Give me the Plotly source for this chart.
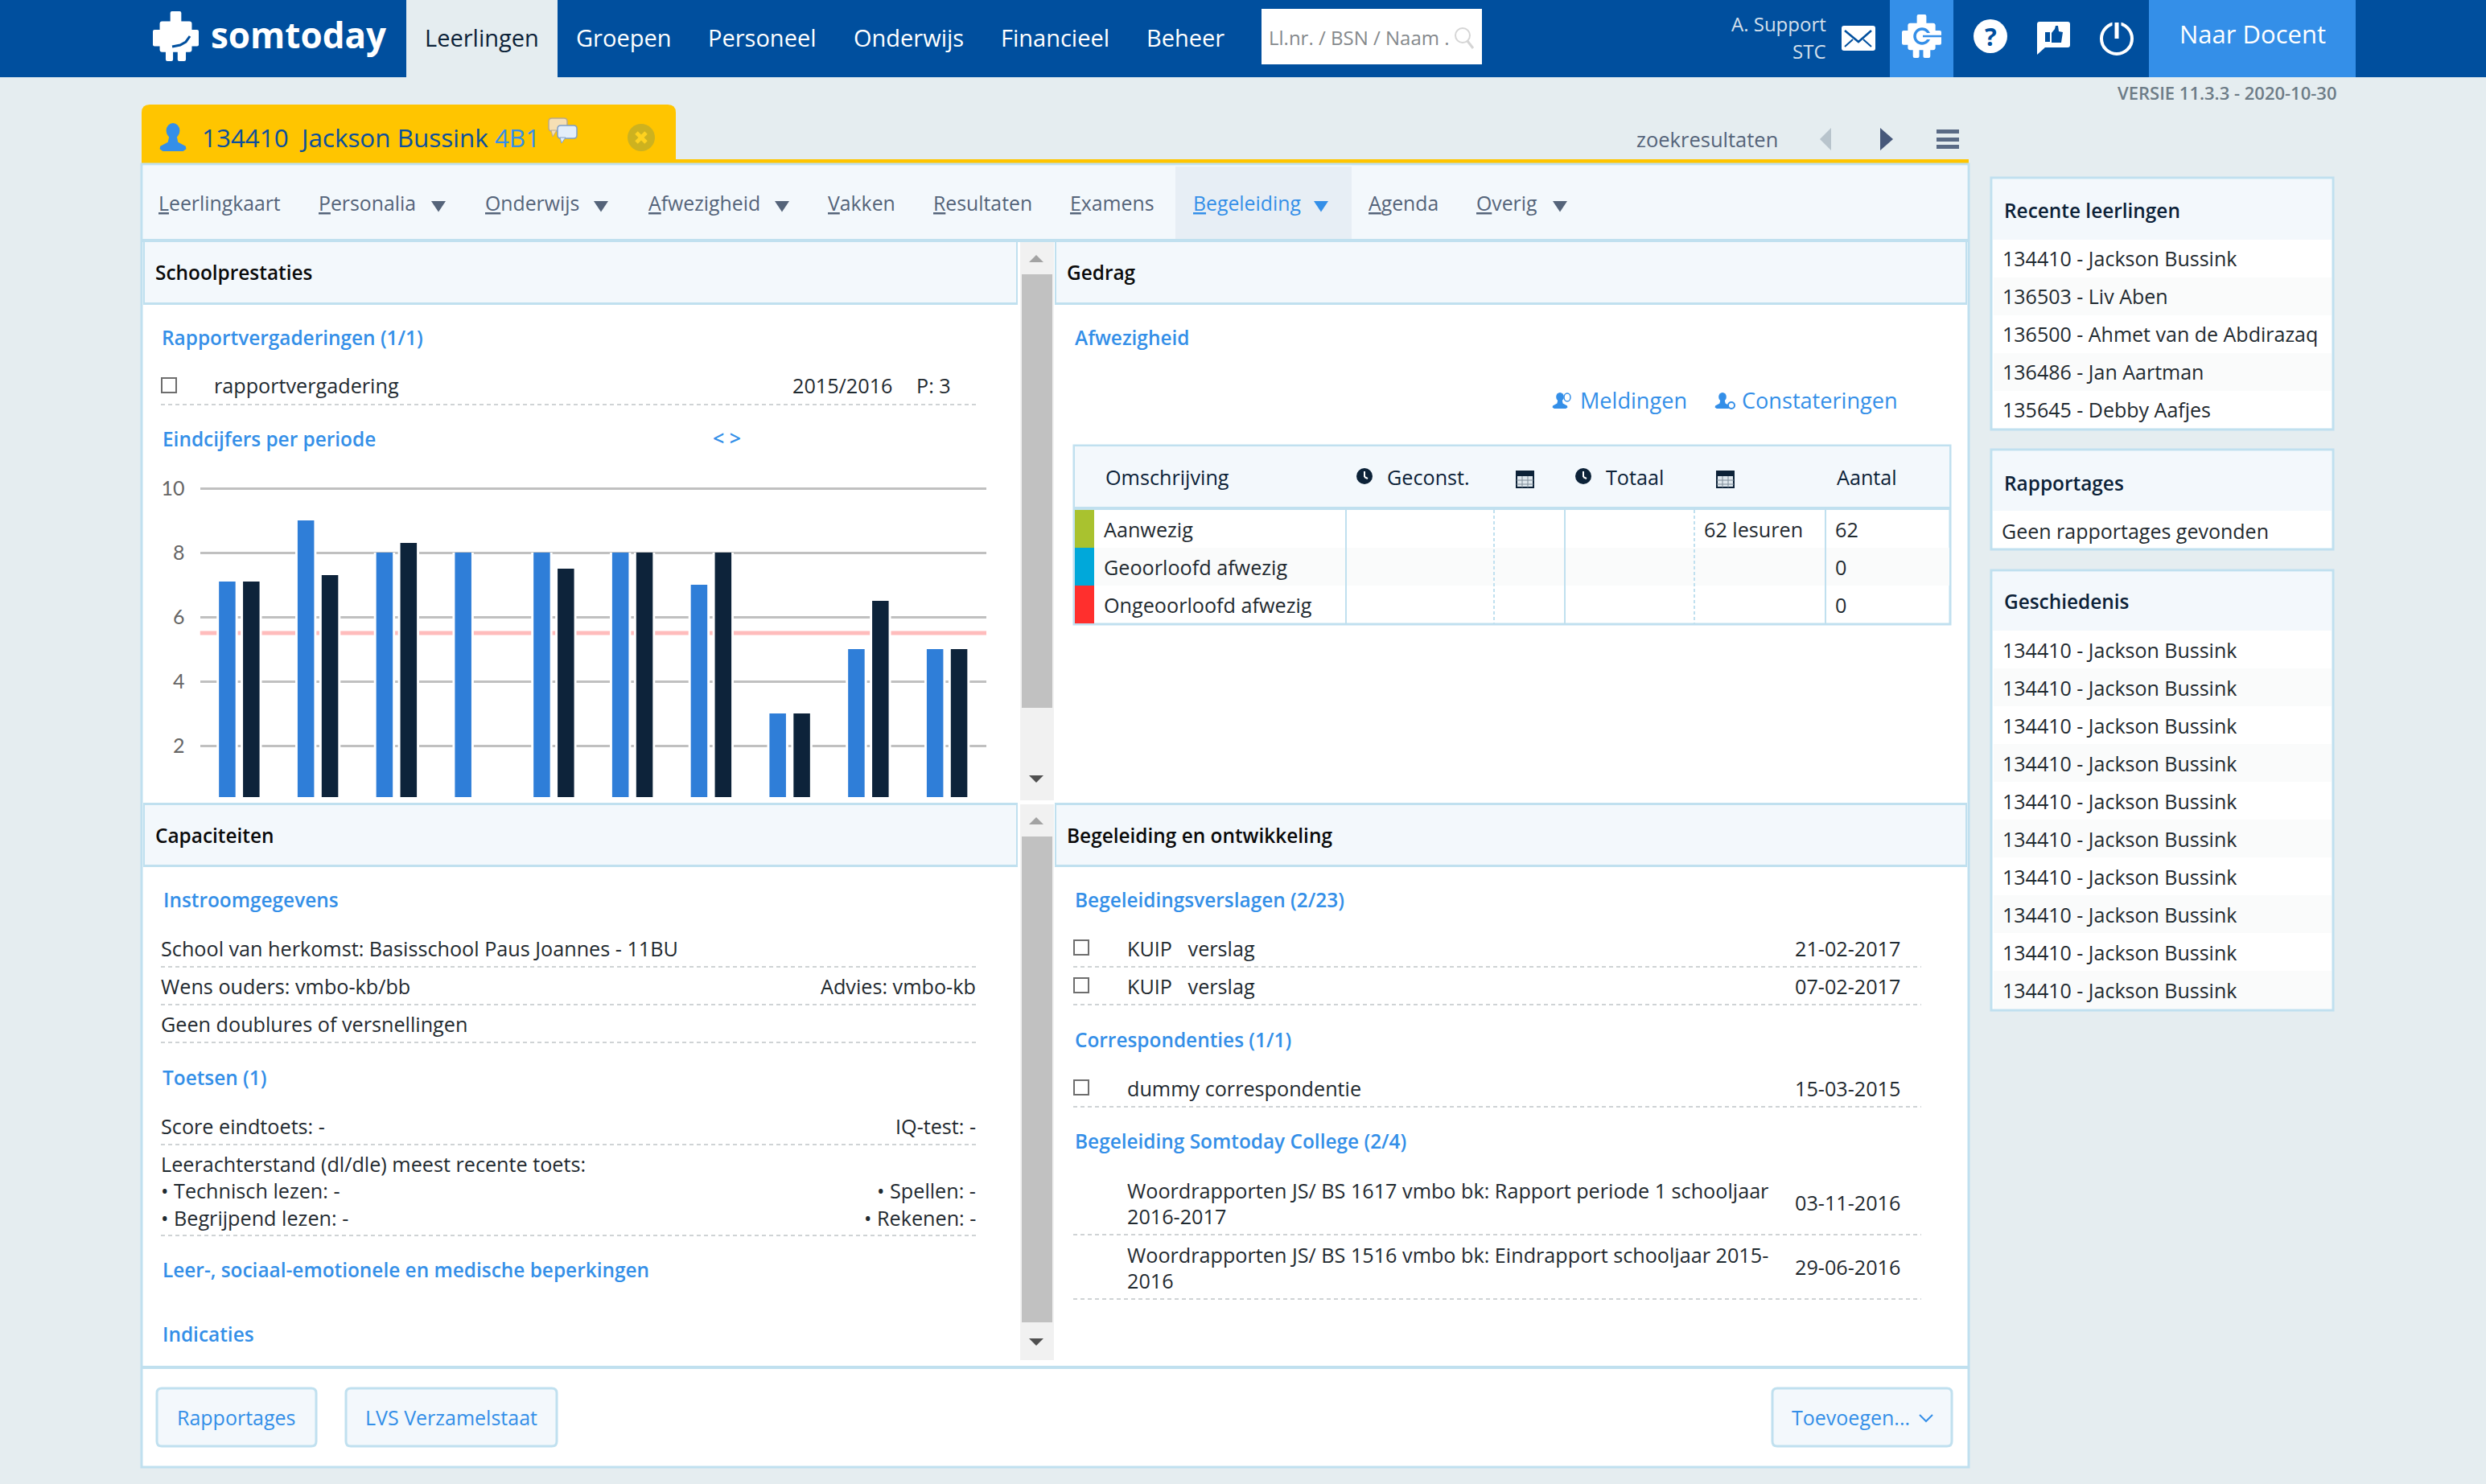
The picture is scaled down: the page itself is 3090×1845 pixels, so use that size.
import plotly.graph_objects as go

W, H = 3090, 1845

# chart data
PERIODS = [1, 2, 3, 4, 5, 6, 7, 8, 9, 10]
SERIES_A = [7.1, 9.0, 8.0, 8.0, 8.0, 8.0, 7.0, 3.0, 5.0, 5.0]
SERIES_B = [7.1, 7.3, 8.3, None, 7.5, 8.0, 8.0, 3.0, 6.5, 5.0]
PASS_MARK = 5.5
Y_TICKS = [2, 4, 6, 8, 10]

NAV_LABELS = ["Leerlingen", "Groepen", "Personeel", "Onderwijs", "Financieel", "Beheer"]
MENU_LABELS = ["Leerlingkaart", "Personalia", "Onderwijs", "Afwezigheid", "Vakken",
               "Resultaten", "Examens", "Begeleiding", "Agenda", "Overig"]
RECENT = ["134410 - Jackson Bussink", "136503 - Liv Aben", "136500 - Ahmet van de Abdirazaq",
          "136486 - Jan Aartman", "135645 - Debby Aafjes"]
HISTORY = ["134410 - Jackson Bussink"] * 10
ABSENCE_ROWS = ["Aanwezig", "Geoorloofd afwezig", "Ongeoorloofd afwezig"]
ABSENCE_TOTAL = ["62 lesuren", "", ""]
ABSENCE_COUNT = ["62", "0", "0"]

NAVY = "#004f9e"
BLUE = "#348fe8"
PAGE = "#e5edf0"
PALE = "#f3f8fc"
EDGE = "#c0e0ef"
DASH = "#cfd3d5"
INK = "#1f2a30"
SLATE = "#55647a"
FONT = "Open Sans"
NONE = "rgba(0,0,0,0)"
HEAD_SIZE = 24.4

shapes = []
notes = []


def px(x):
    return x / W


def py(y):
    return 1 - y / H


def rect(x0, y0, x1, y1, fill, edge=None, lw=0):
    shapes.append(dict(type="rect", xref="paper", yref="paper", layer="below",
                       x0=px(x0), x1=px(x1), y0=py(y0), y1=py(y1), fillcolor=fill,
                       line=dict(color=edge or fill, width=lw)))


def line(x0, y0, x1, y1, color, lw=2, dash=None):
    shapes.append(dict(type="line", xref="paper", yref="paper", layer="below",
                       x0=px(x0), x1=px(x1), y0=py(y0), y1=py(y1),
                       line=dict(color=color, width=lw, dash=dash or "solid")))


def circle(cx, cy, rx, ry, fill, edge=None, lw=0):
    shapes.append(dict(type="circle", xref="paper", yref="paper", layer="below",
                       x0=px(cx - rx), x1=px(cx + rx), y0=py(cy + ry), y1=py(cy - ry),
                       fillcolor=fill, line=dict(color=edge or fill, width=lw)))


def poly(pts, fill, edge=None, lw=0, closed=True):
    d = "M " + " L ".join(f"{px(x):.5f},{py(y):.5f}" for x, y in pts)
    if closed:
        d += " Z"
    shapes.append(dict(type="path", xref="paper", yref="paper", layer="below", path=d,
                       fillcolor=fill, line=dict(color=edge or fill, width=lw)))


def round_box(x0, y0, x1, y1, r, fill, edge=None, lw=0, top_only=False):
    rb = 0 if top_only else r
    d = (f"M {px(x0 + r)},{py(y0)} L {px(x1 - r)},{py(y0)} Q {px(x1)},{py(y0)} {px(x1)},{py(y0 + r)} "
         f"L {px(x1)},{py(y1 - rb)} Q {px(x1)},{py(y1)} {px(x1 - rb)},{py(y1)} "
         f"L {px(x0 + rb)},{py(y1)} Q {px(x0)},{py(y1)} {px(x0)},{py(y1 - rb)} "
         f"L {px(x0)},{py(y0 + r)} Q {px(x0)},{py(y0)} {px(x0 + r)},{py(y0)} Z")
    shapes.append(dict(type="path", xref="paper", yref="paper", layer="below", path=d,
                       fillcolor=fill, line=dict(color=edge or fill, width=lw)))


def text(x, y, s, size=25.2, color=INK, anchor="left", weight=400, family=FONT):
    notes.append(dict(xref="paper", yref="paper", x=px(x), y=py(y), text=s, showarrow=False,
                      xanchor=anchor, yanchor="middle", borderpad=0, borderwidth=0, align=anchor,
                      font=dict(family=family, size=size, color=color, weight=weight)))


def heading(x, y, s, color=BLUE):
    text(x, y, s, HEAD_SIZE, color, weight=600)


def puzzle(x0, y0, w, h, fill):
    # the stepped somtoday figure, also used for the switch button
    round_box(x0 + .38 * w, y0, x0 + .62 * w, y0 + .3 * h, 2, fill)
    round_box(x0 + .15 * w, y0 + .2 * h, x0 + .85 * w, y0 + .82 * h, 3, fill)
    round_box(x0, y0 + .37 * h, x0 + w, y0 + .7 * h, 2, fill)
    round_box(x0 + .28 * w, y0 + .78 * h, x0 + .44 * w, y0 + h, 2, fill)
    round_box(x0 + .54 * w, y0 + .78 * h, x0 + .72 * w, y0 + h, 2, fill)


def person(cx, top, h, color):
    circle(cx, top + .27 * h, .24 * h, .27 * h, color)
    poly([(cx - .13 * h, top + .45 * h), (cx + .13 * h, top + .45 * h), (cx + .18 * h, top + .68 * h),
          (cx + .45 * h, top + .82 * h), (cx + .47 * h, top + .92 * h), (cx + .36 * h, top + h),
          (cx - .36 * h, top + h), (cx - .47 * h, top + .92 * h), (cx - .45 * h, top + .82 * h),
          (cx - .18 * h, top + .68 * h)], color)


def clock(cx, cy):
    circle(cx, cy, 10, 10, "#0c2238")
    line(cx, cy - 6, cx, cy + 1, "white", 2)
    line(cx, cy + 1, cx + 4, cy + 3, "white", 2)


def calendar(x0, y0):
    rect(x0, y0 + 3, x0 + 21, y0 + 23, "#dfe8ee", "#0c2238", 2)
    rect(x0, y0 + 3, x0 + 21, y0 + 9, "#0c2238")
    for dx in (7, 14):
        line(x0 + dx, y0 + 9, x0 + dx, y0 + 23, "#7d8b97", 1)
    for dy in (14, 19):
        line(x0, y0 + dy, x0 + 21, y0 + dy, "#7d8b97", 1)


def checkbox(x0, y0):
    rect(x0, y0, x0 + 18, y0 + 18, "white", "#6e6e6e", 2)


def caret(x0, y, w, color):
    poly([(x0, y), (x0 + w, y), (x0 + w / 2, y + .75 * w)], color)


def card(x0, y0, x1, y1, head_bottom, title, title_y):
    rect(x0, y0, x1, y1, "white", EDGE, 3)
    rect(x0 + 2, y0 + 2, x1 - 2, head_bottom, PALE)
    text(x0 + 16, title_y, title, HEAD_SIZE, "#0c2238", weight=600)


def scrollbar(y0, y1, thumb0, thumb1, up_y, down_y):
    rect(1268, y0, 1310, y1, "#f1f1f1")
    rect(1270, thumb0, 1308, thumb1, "#c1c1c1")
    poly([(1279, up_y + 9), (1297, up_y + 9), (1288, up_y)], "#a3a3a3")
    poly([(1279, down_y), (1297, down_y), (1288, down_y + 9)], "#505050")


# page and top bar
rect(0, 0, W, H, PAGE)
rect(0, 0, W, 96, NAVY)
rect(505, 0, 693, 96, PAGE)
puzzle(190, 14, 57, 62, "white")
poly([(214, 58), (224, 56), (231, 52), (236, 45)], NONE, NAVY, 3, closed=False)
text(262, 43, "somtoday", 44, "white", weight=700)
for label, x in zip(NAV_LABELS, [528, 716, 880, 1061, 1244, 1425]):
    text(x, 47, label, 29, "#0c2238" if label == "Leerlingen" else "white")
rect(1568, 11, 1842, 80, "white")
text(1577, 46, "Ll.nr. / BSN / Naam .", 24, "#85898c")
circle(1818, 44, 9, 9, NONE, "#d5d5d5", 2)
line(1824, 51, 1831, 60, "#d5d5d5", 3)
text(2270, 30, "A. Support", 24, "#d5e0ec", "right")
text(2270, 63, "STC", 24, "#d5e0ec", "right")
round_box(2289, 32, 2331, 63, 3, "white")
poly([(2293, 38), (2310, 52), (2326, 38)], NONE, NAVY, 2.5, closed=False)
line(2293, 58, 2303, 49, NAVY, 2)
line(2326, 58, 2316, 49, NAVY, 2)
rect(2349, 0, 2428, 96, BLUE)
puzzle(2364, 18, 49, 54, "white")
circle(2389, 45, 9, 9, NONE, BLUE, 3.5)
line(2392, 45, 2413, 45, "white", 8)
line(2390, 45, 2413, 45, BLUE, 2.5)
circle(2474, 45, 21, 21, "white")
text(2474, 45, "?", 31, NAVY, "center", 700)
round_box(2532, 27, 2573, 59, 3, "white")
poly([(2532, 56), (2543, 58), (2532, 68)], "white")
rect(2542, 40, 2548, 52, NAVY)
poly([(2550, 41), (2554, 36), (2555, 32), (2558, 32), (2559, 39), (2564, 40), (2562, 53), (2550, 53)], NAVY)
circle(2631, 48, 19, 19, NONE, "white", 4)
line(2631, 24, 2631, 36, NAVY, 11)
line(2631, 28, 2631, 48, "white", 5)
rect(2671, 0, 2928, 96, BLUE)
text(2800, 42, "Naar Docent", 31, "white", "center")
text(2905, 115, "VERSIE 11.3.3 - 2020-10-30", 22, "#6d7c87", "right", 600)

# student tab
round_box(176, 130, 840, 204, 10, "#ffc500", top_only=True)
rect(840, 198, 2447, 204, "#ffc500")
person(215, 153, 35, BLUE)
text(251, 170, "134410  Jackson Bussink <span style='color:#348fe8'>4B1</span>", 31.4, "#0b4f9e")
round_box(682, 147, 705, 163, 4, "#f6dfb4", "#b9a98c", 1.5)
poly([(685, 162), (692, 162), (687, 170)], "#f6dfb4", "#b9a98c", 1)
round_box(693, 156, 717, 172, 4, "#e3eefa", "#7f9fc8", 1.5)
poly([(696, 171), (703, 171), (698, 178)], "#e3eefa", "#7f9fc8", 1)
circle(797, 171, 17, 17, "#cdb21f")
line(791, 165, 803, 177, "#ffd21f", 5)
line(803, 165, 791, 177, "#ffd21f", 5)
text(2034, 173, "zoekresultaten", 25.5, SLATE)
poly([(2276, 159), (2276, 187), (2262, 173)], "#b8c4cc")
poly([(2337, 159), (2337, 187), (2353, 173)], "#46587a")
for y in (161, 171, 180):
    rect(2407, y, 2435, y + 5, "#596a85")

# main card
rect(176, 204, 2447, 1824, "white", EDGE, 3)
rect(178, 206, 2445, 297, PALE)
rect(176, 297, 2447, 301, EDGE)
rect(1461, 207, 1680, 297, "#e7eef5")
menu_x = [197, 396, 603, 806, 1029, 1160, 1330, 1483, 1701, 1835]
for label, x in zip(MENU_LABELS, menu_x):
    color = BLUE if label == "Begeleiding" else SLATE
    text(x, 252, f"<u>{label[0]}</u>{label[1:]}", 24.8, color)
caret(536, 250, 18, SLATE)
caret(738, 250, 18, SLATE)
caret(963, 250, 18, SLATE)
caret(1633, 250, 18, BLUE)
caret(1930, 250, 18, SLATE)

# panel headers
for x0, x1, y0, y1, title in [(178, 1265, 301, 376, "Schoolprestaties"), (1311, 2445, 301, 376, "Gedrag"),
                              (178, 1265, 1001, 1075, "Capaciteiten"),
                              (1311, 2445, 1001, 1075, "Begeleiding en ontwikkeling")]:
    rect(x0, y0, x1, y1, PALE)
    rect(x0, y1, x1, y1 + 3, EDGE)
    rect(x0, y0 - 2, x0 + 2, y1, EDGE)
    rect(x1 - 2, y0 - 2, x1, y1, EDGE)
    rect(x0, y0 - 3, x1, y0, EDGE)
    heading(x0 + 15, y0 + 37, title, "#0a0a0a")
scrollbar(301, 995, 341, 880, 317, 964)
scrollbar(1000, 1691, 1040, 1644, 1016, 1664)

# school results
heading(201, 419, "Rapportvergaderingen (1/1)")
checkbox(201, 470)
text(266, 479, "rapportvergadering")
text(985, 479, "2015/2016")
text(1139, 479, "P: 3")
line(200, 503, 1214, 503, DASH, 2, "5px,4px")
heading(202, 546, "Eindcijfers per periode")
text(886, 544, "< >", 25, BLUE, weight=600)

# behaviour
heading(1336, 419, "Afwezigheid")
person(1939, 488, 20, BLUE)
circle(1948, 494, 4, 5, "white", BLUE, 1.5)
text(1964, 498, "Meldingen", 27.1, BLUE)
person(2141, 488, 20, BLUE)
circle(2152, 504, 4, 4, "white", BLUE, 2)
text(2165, 498, "Constateringen", 27.1, BLUE)
rect(1335, 554, 2424, 776, "white", EDGE, 3)
rect(1336, 555, 2423, 630, PALE)
rect(1335, 630, 2424, 634, EDGE)
text(1374, 593, "Omschrijving", 25.2, "#0c2238", weight=500)
clock(1696, 592)
text(1724, 593, "Geconst.", 25.2, "#0c2238", weight=500)
calendar(1885, 583)
clock(1968, 592)
text(1996, 593, "Totaal", 25.2, "#0c2238", weight=500)
calendar(2134, 583)
text(2283, 593, "Aantal", 25.2, "#0c2238", weight=500)
row_tops = [634, 681, 728]
rect(1337, 681, 2423, 728, "#fafbfb")
for top, strip in zip(row_tops, ["#a9c22f", "#00a8da", "#ff2f2d"]):
    rect(1336, top, 1360, top + 47, strip)
for x, dash in [(1673, None), (1857, "4px,3px"), (1945, None), (2106, "4px,3px"), (2269, None)]:
    line(x, 634, x, 775, EDGE, 2, dash)
for top, label, total, count in zip(row_tops, ABSENCE_ROWS, ABSENCE_TOTAL, ABSENCE_COUNT):
    text(1372, top + 24, label)
    if total:
        text(2118, top + 24, total)
    text(2281, top + 24, count)

# capacities
heading(203, 1118, "Instroomgegevens")
text(200, 1179, "School van herkomst: Basisschool Paus Joannes - 11BU")
line(200, 1202, 1214, 1202, DASH, 2, "5px,4px")
text(200, 1226, "Wens ouders: vmbo-kb/bb")
text(1213, 1226, "Advies: vmbo-kb", anchor="right")
line(200, 1249, 1214, 1249, DASH, 2, "5px,4px")
text(200, 1273, "Geen doublures of versnellingen")
line(200, 1296, 1214, 1296, DASH, 2, "5px,4px")
heading(202, 1339, "Toetsen (1)")
text(200, 1400, "Score eindtoets: -")
text(1213, 1400, "IQ-test: -", anchor="right")
line(200, 1423, 1214, 1423, DASH, 2, "5px,4px")
text(200, 1447, "Leerachterstand (dl/dle) meest recente toets:")
text(200, 1480, "• Technisch lezen: -")
text(1213, 1480, "• Spellen: -", anchor="right")
text(200, 1514, "• Begrijpend lezen: -")
text(1213, 1514, "• Rekenen: -", anchor="right")
line(200, 1536, 1214, 1536, DASH, 2, "5px,4px")
heading(202, 1578, "Leer-, sociaal-emotionele en medische beperkingen")
heading(202, 1658, "Indicaties")

# guidance
heading(1336, 1118, "Begeleidingsverslagen (2/23)")
checkbox(1335, 1169)
text(1401, 1179, "KUIP   verslag")
text(2231, 1179, "21-02-2017")
line(1334, 1202, 2388, 1202, DASH, 2, "5px,4px")
checkbox(1335, 1216)
text(1401, 1226, "KUIP   verslag")
text(2231, 1226, "07-02-2017")
line(1334, 1249, 2388, 1249, DASH, 2, "5px,4px")
heading(1336, 1292, "Correspondenties (1/1)")
checkbox(1335, 1343)
text(1401, 1353, "dummy correspondentie")
text(2231, 1353, "15-03-2015")
line(1334, 1376, 2388, 1376, DASH, 2, "5px,4px")
heading(1336, 1418, "Begeleiding Somtoday College (2/4)")
text(1401, 1480, "Woordrapporten JS/ BS 1617 vmbo bk: Rapport periode 1 schooljaar")
text(1401, 1512, "2016-2017")
text(2231, 1495, "03-11-2016")
line(1334, 1535, 2388, 1535, DASH, 2, "5px,4px")
text(1401, 1560, "Woordrapporten JS/ BS 1516 vmbo bk: Eindrapport schooljaar 2015-")
text(1401, 1592, "2016")
text(2231, 1575, "29-06-2016")
line(1334, 1615, 2388, 1615, DASH, 2, "5px,4px")

# footer
rect(176, 1698, 2447, 1702, EDGE)
for x0, x1, label in [(195, 393, "Rapportages"), (430, 692, "LVS Verzamelstaat"), (2203, 2426, "Toevoegen...")]:
    round_box(x0, 1726, x1, 1798, 6, PALE, EDGE, 3)
text(294, 1762, "Rapportages", 25, BLUE, "center")
text(561, 1762, "LVS Verzamelstaat", 25, BLUE, "center")
text(2227, 1762, "Toevoegen...", 25, BLUE)
poly([(2386, 1759), (2394, 1767), (2402, 1759)], NONE, BLUE, 2, closed=False)

# sidebar
card(2475, 221, 2900, 534, 298, "Recente leerlingen", 261)
for i, name in enumerate(RECENT):
    if i % 2:
        rect(2478, 298 + 47 * i, 2898, 345 + 47 * i, "#fafbfb")
    text(2489, 321 + 47 * i, name, 25)
card(2475, 559, 2900, 683, 635, "Rapportages", 600)
text(2488, 660, "Geen rapportages gevonden", 25)
card(2475, 709, 2900, 1256, 784, "Geschiedenis", 747)
for i, name in enumerate(HISTORY):
    if i % 2:
        rect(2478, 784 + 47 * i, 2898, 831 + 47 * i, "#fafbfb")
    text(2489, 808 + 47 * i, name, 25)

# threshold under the bars, above the grid
shapes.append(dict(type="line", xref="x", yref="y", layer="below", x0=0.5, x1=10.5,
                   y0=PASS_MARK, y1=PASS_MARK, line=dict(color="#ffbcbc", width=5)))

fig = go.Figure()
# white halo behind each bar breaks the grid lines like the original
fig.add_trace(go.Bar(x=PERIODS, y=SERIES_A, width=0.27, offset=-0.288, marker=dict(color="white", line=dict(width=0)),
                     hoverinfo="skip", showlegend=False))
fig.add_trace(go.Bar(x=PERIODS, y=SERIES_B, width=0.27, offset=0.018, marker=dict(color="white", line=dict(width=0)),
                     hoverinfo="skip", showlegend=False))
fig.add_trace(go.Bar(x=PERIODS, y=SERIES_A, width=0.21, offset=-0.258, name="periode A",
                     marker=dict(color="#2f7ed8", line=dict(width=0))))
fig.add_trace(go.Bar(x=PERIODS, y=SERIES_B, width=0.21, offset=0.048, name="periode B",
                     marker=dict(color="#0d233a", line=dict(width=0))))

fig.update_layout(
    width=W, height=H, margin=dict(l=0, r=0, t=0, b=0, autoexpand=False), barmode="overlay", showlegend=False,
    paper_bgcolor=PAGE, plot_bgcolor=NONE, shapes=shapes, annotations=notes,
    xaxis=dict(domain=[px(248.5), px(1226)], range=[0.5, 10.5], showticklabels=False, showgrid=False,
               zeroline=False, ticks=""),
    yaxis=dict(domain=[py(991), py(599)], range=[0.4, 10.2], tickvals=Y_TICKS, ticks="", showline=False,
               zeroline=False, gridcolor="#c0c0c0", gridwidth=3, ticklabelstandoff=18,
               tickfont=dict(family="Lato", size=25, color="#666666")),
)

fig.write_html("out.html", config=dict(displayModeBar=False),
               post_script="document.body.style.margin='0';document.body.style.overflow='hidden';")
